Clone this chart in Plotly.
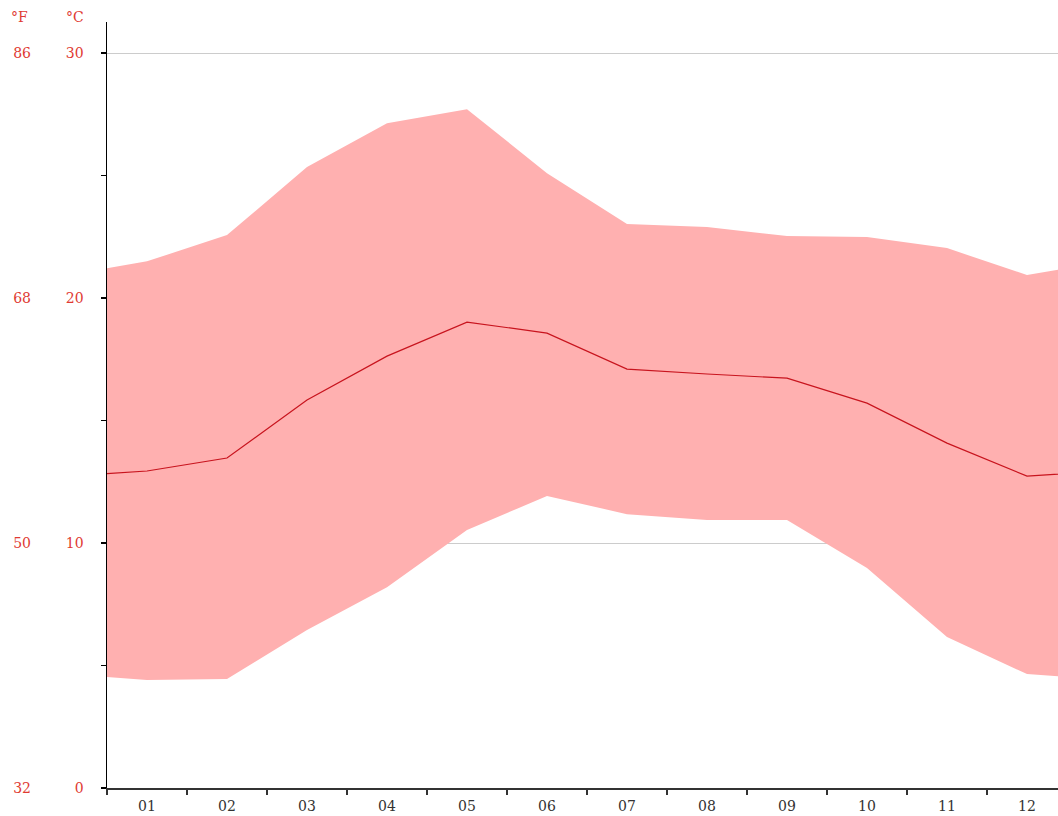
import plotly.graph_objects as go

months = ["01", "02", "03", "04", "05", "06", "07", "08", "09", "10", "11", "12"]
temp_mean = [12.94, 13.47, 15.84, 17.63, 19.02, 18.57, 17.10, 16.90, 16.73, 15.71, 14.08, 12.73]
temp_max = [21.50, 22.57, 25.35, 27.14, 27.71, 25.10, 23.02, 22.90, 22.53, 22.49, 22.04, 20.94]
temp_min = [4.41, 4.45, 6.45, 8.20, 10.53, 11.92, 11.18, 10.94, 10.94, 8.98, 6.16, 4.65]
c_ticks = [0, 10, 20, 30]
c_minor = [5, 15, 25]
f_ticks = [32, 50, 68, 86]

# month positions 1..12 with cyclic wrap (Dec before Jan, Jan after Dec)
x_pos = list(range(1, 13))
xw = [0] + x_pos + [13]

def wrap(v):
    return [v[-1]] + list(v) + [v[0]]

RED = "#e03a32"
FONT = "DejaVu Serif"
FS = 14
y_top = 31.27

W, H = 1058, 816
l, r, t, b = 107, 0, 22, 28
pw, ph = W - l - r, H - t - b

fig = go.Figure()
fig.add_trace(go.Scatter(x=xw, y=wrap(temp_min), mode="lines", line=dict(width=0),
                         hoverinfo="skip", showlegend=False))
fig.add_trace(go.Scatter(x=xw, y=wrap(temp_max), mode="lines", line=dict(width=0),
                         fill="tonexty", fillcolor="#ffb0b0", showlegend=False))
fig.add_trace(go.Scatter(x=xw, y=wrap(temp_mean), mode="lines",
                         line=dict(color="#c8141e", width=1.2), showlegend=False))
# invisible trace for the Fahrenheit axis
fig.add_trace(go.Scatter(x=[1], y=[50], yaxis="y2", mode="markers",
                         marker=dict(opacity=0), hoverinfo="skip", showlegend=False))

fig.update_layout(
    width=W, height=H,
    margin=dict(l=l, r=r, t=t, b=b),
    paper_bgcolor="white", plot_bgcolor="white",
    hovermode=False,
    font=dict(family=FONT, size=FS),
    xaxis=dict(
        range=[0.5, 0.5 + pw / 80], tickmode="array", tickvals=x_pos, ticktext=months,
        ticks="", showgrid=False, zeroline=False,
        showline=True, linecolor="#333333", linewidth=2,
        tickfont=dict(family=FONT, size=FS, color="#333333"),
        ticklabelstandoff=4,
        minor=dict(tickmode="array", tickvals=[m + 0.5 for m in range(0, 12)],
                   ticks="outside", ticklen=5, tickcolor="#333333", tickwidth=1.5, showgrid=False),
    ),
    yaxis=dict(
        range=[0, y_top], tickmode="array", tickvals=c_ticks, ticktext=[str(v) for v in c_ticks],
        ticks="outside", ticklen=5, tickcolor="black", tickwidth=1.5,
        showgrid=True, gridcolor="#cccccc", gridwidth=1, zeroline=False,
        showline=True, linecolor="black", linewidth=1.5,
        tickfont=dict(family=FONT, size=FS, color=RED),
        ticklabelstandoff=14,
        minor=dict(tickmode="array", tickvals=c_minor, ticks="outside", ticklen=5,
                   tickcolor="black", tickwidth=1.5, showgrid=False),
    ),
    yaxis2=dict(
        range=[32, 32 + y_top * 1.8], overlaying="y", anchor="free", position=0, side="left",
        tickmode="array", tickvals=f_ticks, ticktext=[str(v) for v in f_ticks],
        showgrid=False, zeroline=False, showline=False, ticks="",
        tickfont=dict(family=FONT, size=FS, color=RED),
        ticklabelstandoff=76,
    ),
)

# header labels at page pixel positions -> paper coords
for txt, px, py in [("°F", 19, 17), ("°C", 75, 17)]:
    fig.add_annotation(text=txt, x=(px - l) / pw, y=(H - b - py) / ph,
                       xref="paper", yref="paper", showarrow=False,
                       xanchor="center", yanchor="middle",
                       font=dict(family=FONT, size=FS, color=RED))

fig.write_html(
    "out.html",
    config={"displayModeBar": False, "staticPlot": True},
    post_script="document.body.style.margin='0';document.body.style.overflow='hidden';",
)
